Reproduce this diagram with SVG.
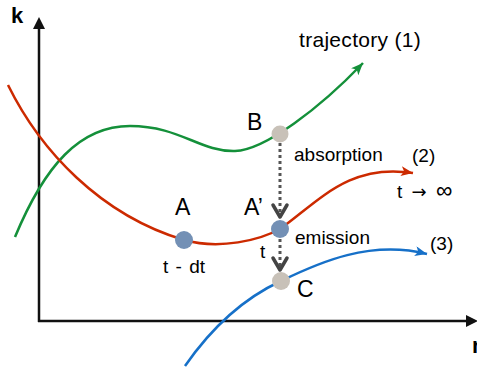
<svg xmlns="http://www.w3.org/2000/svg" width="477" height="370" viewBox="0 0 477 370">
<style>
text{font-family:"Liberation Sans",Arial,sans-serif;fill:#000}
.lbl{font-size:19px}
.big{font-size:23px}
.ax{font-size:22px;font-weight:bold}
.curve{fill:none;stroke-width:2.5}
.dot{fill:none;stroke:#555;stroke-width:3;stroke-dasharray:3 3}
.chev{fill:none;stroke:#444;stroke-width:3.5;stroke-linecap:round;stroke-linejoin:round}
.blueN{fill:#7390b5}
.grayN{fill:#c8c1b8}
</style>
<defs>
<marker id="mg" markerWidth="14" markerHeight="12" refX="12" refY="5" orient="auto" markerUnits="userSpaceOnUse"><path d="M0,0 L12,5 L0,10 L3,5 Z" fill="#14903a"/></marker>
<marker id="mr" markerWidth="14" markerHeight="12" refX="12" refY="5" orient="auto" markerUnits="userSpaceOnUse"><path d="M0,0 L12,5 L0,10 L3,5 Z" fill="#cc2a00"/></marker>
<marker id="mb" markerWidth="14" markerHeight="12" refX="12" refY="5" orient="auto" markerUnits="userSpaceOnUse"><path d="M0,0 L12,5 L0,10 L3,5 Z" fill="#1670c8"/></marker>
</defs>
<g id="axes">
<line x1="39" y1="322" x2="39" y2="27" stroke="#111" stroke-width="2.5"/>
<path d="M39,17 L45,29 L33,29 Z" fill="#111"/>
<line x1="38" y1="321" x2="468" y2="321" stroke="#111" stroke-width="2.5"/>
<path d="M478,321 L466,315 L466,327 Z" fill="#111"/>
<text class="ax" x="11" y="23">k</text>
<text class="ax" x="472" y="353">r</text>
</g>
<g id="connectors">
<path class="curve" stroke="#14903a" d="M15,237 C45,165 80,126 130,126 C180,126 200,152 235,151 C265,150 320,108 363,63" marker-end="url(#mg)"/>
<path class="curve" stroke="#cc2a00" d="M8,85 C40,150 100,215 184,240 C220,250 260,240 280,229 C320,200 350,163 413,173" marker-end="url(#mr)"/>
<path class="curve" stroke="#1670c8" d="M185,366 C210,330 240,300 281,281 C320,262 370,240 427,254" marker-end="url(#mb)"/>
<line class="dot" x1="280" y1="143" x2="280" y2="214"/>
<path class="chev" d="M273,205 L280,217 L287,205"/>
<line class="dot" x1="280" y1="239" x2="280" y2="266"/>
<path class="chev" d="M273,258 L280,270 L287,258"/>
</g>
<g id="nodeA"><circle class="blueN" cx="184" cy="240" r="9"/><text class="big" x="175" y="215">A</text><text class="lbl" x="163" y="273" style="word-spacing:2px">t - dt</text></g>
<g id="nodeA2"><circle class="blueN" cx="280" cy="229" r="9"/><text class="big" x="244" y="215">A’</text><text class="lbl" x="260" y="258">t</text></g>
<g id="nodeB"><circle class="grayN" cx="280" cy="134" r="8.5"/><text class="big" x="247" y="130">B</text></g>
<g id="nodeC"><circle class="grayN" cx="281" cy="281" r="9"/><text class="big" x="297" y="297">C</text></g>
<g id="labels">
<text style="font-size:21px;letter-spacing:0.3px" x="299" y="47">trajectory (1)</text>
<text class="lbl" x="294" y="161">absorption</text>
<text class="lbl" x="295" y="244">emission</text>
<text class="lbl" x="412" y="162">(2)</text>
<text class="lbl" x="397" y="198" style="word-spacing:4px">t <tspan style="font-family:'DejaVu Sans',sans-serif;font-size:18px">→</tspan> <tspan style="font-size:23px">∞</tspan></text>
<text class="lbl" x="430" y="250">(3)</text>
</g>
</svg>
